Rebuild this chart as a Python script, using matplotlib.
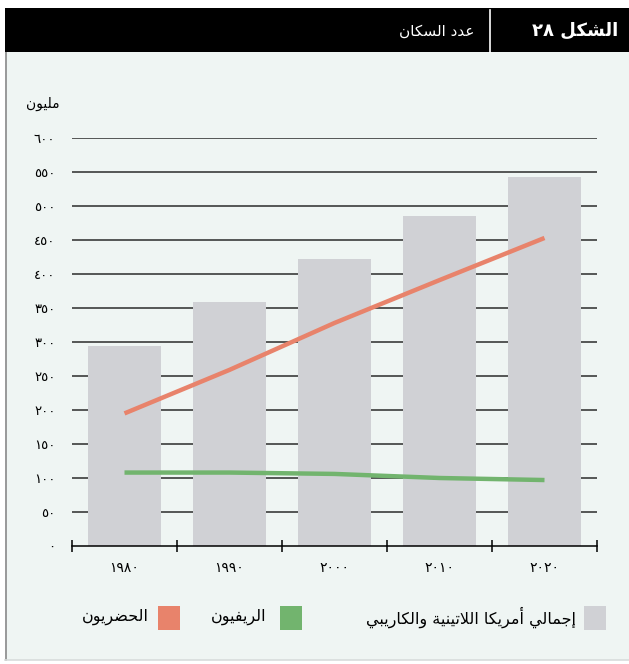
import matplotlib
matplotlib.use("Agg")
import matplotlib.pyplot as plt
from matplotlib.patches import Rectangle
from matplotlib.lines import Line2D

# data
years = [1980, 1990, 2000, 2010, 2020]
total = [294, 359, 422, 485, 543]
urban = [195, 259, 328, 391, 453]
rural = [108, 108, 106, 100, 97]
yticks = [0, 50, 100, 150, 200, 250, 300, 350, 400, 450, 500, 550, 600]

title_fig = "الشكل ٢٨"
title_txt = "عدد السكان"
unit_txt = "مليون"
lbl_total = "إجمالي أمريكا اللاتينية والكاريبي"
lbl_rural = "الريفيون"
lbl_urban = "الحضريون"

# matplotlib has no arabic shaping, so pick presentation forms by hand
# (isolated, final, initial, medial)
FORMS = {
    'ا': (0xFE8D, 0xFE8E, None, None),
    'أ': (0xFE83, 0xFE84, None, None),
    'إ': (0xFE87, 0xFE88, None, None),
    'ب': (0xFE8F, 0xFE90, 0xFE91, 0xFE92),
    'ة': (0xFE93, 0xFE94, None, None),
    'ت': (0xFE95, 0xFE96, 0xFE97, 0xFE98),
    'ج': (0xFE9D, 0xFE9E, 0xFE9F, 0xFEA0),
    'ح': (0xFEA1, 0xFEA2, 0xFEA3, 0xFEA4),
    'د': (0xFEA9, 0xFEAA, None, None),
    'ر': (0xFEAD, 0xFEAE, None, None),
    'س': (0xFEB1, 0xFEB2, 0xFEB3, 0xFEB4),
    'ش': (0xFEB5, 0xFEB6, 0xFEB7, 0xFEB8),
    'ض': (0xFEBD, 0xFEBE, 0xFEBF, 0xFEC0),
    'ع': (0xFEC9, 0xFECA, 0xFECB, 0xFECC),
    'ف': (0xFED1, 0xFED2, 0xFED3, 0xFED4),
    'ك': (0xFED9, 0xFEDA, 0xFEDB, 0xFEDC),
    'ل': (0xFEDD, 0xFEDE, 0xFEDF, 0xFEE0),
    'م': (0xFEE1, 0xFEE2, 0xFEE3, 0xFEE4),
    'ن': (0xFEE5, 0xFEE6, 0xFEE7, 0xFEE8),
    'و': (0xFEED, 0xFEEE, None, None),
    'ي': (0xFEF1, 0xFEF2, 0xFEF3, 0xFEF4),
}
LAM_ALEF = {'ا': (0xFEFB, 0xFEFC), 'أ': (0xFEF7, 0xFEF8), 'إ': (0xFEF9, 0xFEFA)}


def shape(word):
    out = []
    prev_joins = False
    i = 0
    n = len(word)
    while i < n:
        c = word[i]
        if c not in FORMS:
            out.append(c)
            prev_joins = False
            i += 1
            continue
        if c == 'ل' and i + 1 < n and word[i + 1] in LAM_ALEF:
            iso, fin = LAM_ALEF[word[i + 1]]
            out.append(chr(fin if prev_joins else iso))
            prev_joins = False
            i += 2
            continue
        nxt = word[i + 1] if i + 1 < n else None
        iso, fin, ini, med = FORMS[c]
        to_next = ini is not None and nxt in FORMS
        if prev_joins and to_next:
            g = med
        elif prev_joins:
            g = fin
        elif to_next:
            g = ini
        else:
            g = iso
        out.append(chr(g))
        prev_joins = to_next
        i += 1
    return ''.join(out)


def ar(text):
    words = shape(text).split(' ')
    vis = [w if all(ch.isdigit() for ch in w) else w[::-1] for w in words]
    return ' '.join(vis[::-1])


def ad(n):
    return str(n).translate(str.maketrans("0123456789", "٠١٢٣٤٥٦٧٨٩"))


plt.rcParams['font.family'] = ['DejaVu Sans']

W, H = 629, 664
fig = plt.figure(figsize=(W / 100, H / 100), dpi=100)
fig.patch.set_facecolor("white")

def fx(px):
    return px / W

def fy(py):
    return 1 - py / H

# panel and header
fig.patches.append(Rectangle((fx(5), fy(660)), fx(W), fy(52) - fy(660),
                             transform=fig.transFigure, facecolor="#eff5f3",
                             edgecolor="none", zorder=-5))
fig.lines.append(Line2D([fx(5.5), fx(5.5)], [fy(52), fy(660)], transform=fig.transFigure,
                        color="#8a8a8a", lw=1.2, zorder=-4))
fig.lines.append(Line2D([fx(5), fx(W)], [fy(660), fy(660)], transform=fig.transFigure,
                        color="#d8dcdb", lw=1.2, zorder=-4))
fig.patches.append(Rectangle((fx(5), fy(52)), fx(W), fy(8) - fy(52),
                             transform=fig.transFigure, facecolor="black",
                             edgecolor="none", zorder=1))
fig.lines.append(Line2D([fx(490), fx(490)], [fy(10), fy(52)], transform=fig.transFigure,
                        color="white", lw=1.2, zorder=2))
fig.text(fx(618), fy(31), ar(title_fig), color="white", fontsize=13, fontweight="bold",
         ha="right", va="center", zorder=3)
fig.text(fx(474), fy(31), ar(title_txt), color="white", fontsize=11,
         ha="right", va="center", zorder=3)
fig.text(fx(60), fy(104), ar(unit_txt), color="black", fontsize=10,
         ha="right", va="center")

# plot area
ax = fig.add_axes([fx(72), fy(546), fx(597) - fx(72), fy(138) - fy(546)])
ax.set_facecolor("none")
x = list(range(len(years)))

for v in yticks[1:]:
    ax.axhline(v, color="#2b2b2b", lw=1.1, zorder=1)

ax.bar(x, total, width=0.69, color="#d0d1d5", zorder=2)
ax.plot(x, rural, color="#72b46e", lw=3.2, zorder=3, solid_capstyle="butt")
ax.plot(x, urban, color="#e8836b", lw=3.2, zorder=3, solid_capstyle="butt")

ax.set_xlim(-0.5, len(years) - 0.5)
ax.set_ylim(0, 600)
for s in ["top", "right", "left"]:
    ax.spines[s].set_visible(False)
ax.spines["bottom"].set_color("black")
ax.spines["bottom"].set_linewidth(1.1)
ax.spines["bottom"].set_zorder(4)

ax.set_xticks([i - 0.5 for i in range(len(years) + 1)])
ax.set_xticklabels([])
ax.tick_params(axis="x", which="major", direction="inout", length=8.5, width=1.1, color="black")
ax.set_xticks(x, minor=True)
ax.set_xticklabels([ad(y) for y in years], minor=True, fontsize=10)
ax.tick_params(axis="x", which="minor", length=0, pad=11)

ax.set_yticks(yticks)
ax.set_yticklabels([ad(v) for v in yticks], fontsize=9.5)
ax.tick_params(axis="y", length=0, pad=12)

# legend, laid out right to left
legend_items = [
    (lbl_total, "#d0d1d5", 584, 576),
    (lbl_rural, "#72b46e", 280, 266),
    (lbl_urban, "#e8836b", 158, 149),
]
for label, col, sq_left, txt_right in legend_items:
    fig.patches.append(Rectangle((fx(sq_left), fy(630)), fx(22), fy(606) - fy(630),
                                 transform=fig.transFigure, facecolor=col,
                                 edgecolor="none"))
    fig.text(fx(txt_right), fy(617), ar(label), fontsize=11.5, ha="right", va="center")

fig.savefig("out.png", dpi=100, facecolor=fig.get_facecolor())
